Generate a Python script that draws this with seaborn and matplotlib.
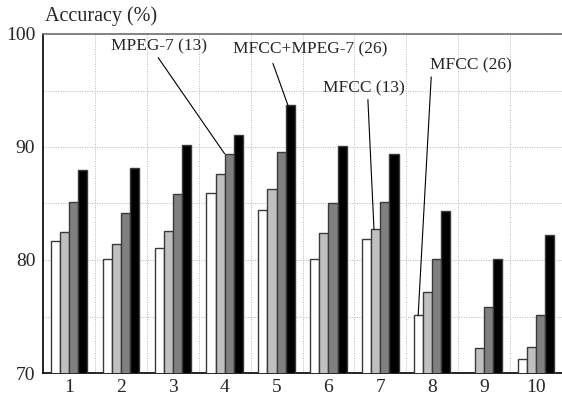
import matplotlib
matplotlib.use("Agg")
import matplotlib.pyplot as plt
import numpy as np
import pandas as pd
import seaborn as sns

# data
groups = ["1", "2", "3", "4", "5", "6", "7", "8", "9", "10"]
series = ["MFCC (26)", "MFCC (13)", "MPEG-7 (13)", "MFCC+MPEG-7 (26)"]
white_vals = [81.7, 80.1, 81.1, 85.9, 84.4, 80.1, 81.9, 75.1, np.nan, 71.2]
lgray_vals = [82.5, 81.4, 82.6, 87.6, 86.3, 82.4, 82.7, 77.2, 72.2, 72.3]
dgray_vals = [85.1, 84.2, 85.8, 89.4, 89.6, 85.0, 85.1, 80.1, 75.8, 75.1]
black_vals = [88.0, 88.1, 90.2, 91.1, 93.7, 90.1, 89.4, 84.3, 80.1, 82.2]
colors = ["#ffffff", "#c0c0c0", "#808080", "#000000"]

df = pd.DataFrame({
    "group": groups * 4,
    "series": np.repeat(series, len(groups)),
    "acc": white_vals + lgray_vals + dgray_vals + black_vals,
})

sns.set_style("white")
plt.rcParams["font.family"] = ["Liberation Serif", "DejaVu Serif"]

fig = plt.figure(figsize=(5.62, 3.96), dpi=100)
ax = fig.add_axes([43 / 562, 23 / 396, 519 / 562, 339 / 396])

width = 0.7
sns.barplot(data=df, x="group", y="acc", hue="series", hue_order=series,
            order=groups, palette=colors, width=width, gap=0,
            edgecolor="#3a3a3a", linewidth=1.0, legend=False, ax=ax, zorder=3)

ax.set_ylim(70, 100)
ax.set_xlim(-0.5, len(groups) - 0.5)
ax.set_yticks([70, 80, 90, 100])
ax.set_yticks(np.arange(75, 100, 5), minor=True)
ax.set_xticks(np.arange(len(groups)) + 0.5, minor=True)
grid_kw = dict(color="#b8b8b8", linestyle=(0, (1, 1.5)), linewidth=0.7, zorder=0)
ax.grid(which="both", axis="y", **grid_kw)
ax.grid(which="minor", axis="x", **grid_kw)
ax.set_axisbelow(True)
ax.tick_params(which="both", length=0, labelsize=14)
ax.tick_params(axis="y", pad=5.5)
ax.tick_params(axis="x", pad=4)
ax.set_xlabel("")
ax.set_ylabel("")

for s in ["left", "bottom"]:
    ax.spines[s].set_color("black")
    ax.spines[s].set_linewidth(1.2)
ax.spines["top"].set_color("#707070")
ax.spines["top"].set_linewidth(1.2)
ax.spines["right"].set_visible(False)

fig.text(45 / 562, 1 - 16 / 396, "Accuracy (%)", fontsize=14.5, va="center", ha="left")

# callouts: (series index, group index, fraction across bar, text pos, line start)
bw = width / len(series)


def bar_left(si, gi):
    return gi - width / 2 + si * bw


vals = [white_vals, lgray_vals, dgray_vals, black_vals]
callouts = [
    (2, 3, 0.0, (1.74, 98.9), (1.72, 97.9)),
    (3, 4, 0.25, (4.64, 98.6), (3.93, 97.4)),
    (1, 6, 0.3, (5.68, 95.2), (5.76, 94.2)),
    (0, 7, 0.45, (7.74, 97.25), (6.98, 96.2)),
]
for si, gi, frac, tpos, lstart in callouts:
    tx = bar_left(si, gi) + frac * bw
    ty = vals[si][gi]
    ax.plot([lstart[0], tx], [lstart[1], ty], color="black", linewidth=0.8, zorder=5)
    ax.text(tpos[0], tpos[1], series[si], fontsize=12.5, ha="center", va="center",
            zorder=6)

fig.savefig("out.png", dpi=100)
